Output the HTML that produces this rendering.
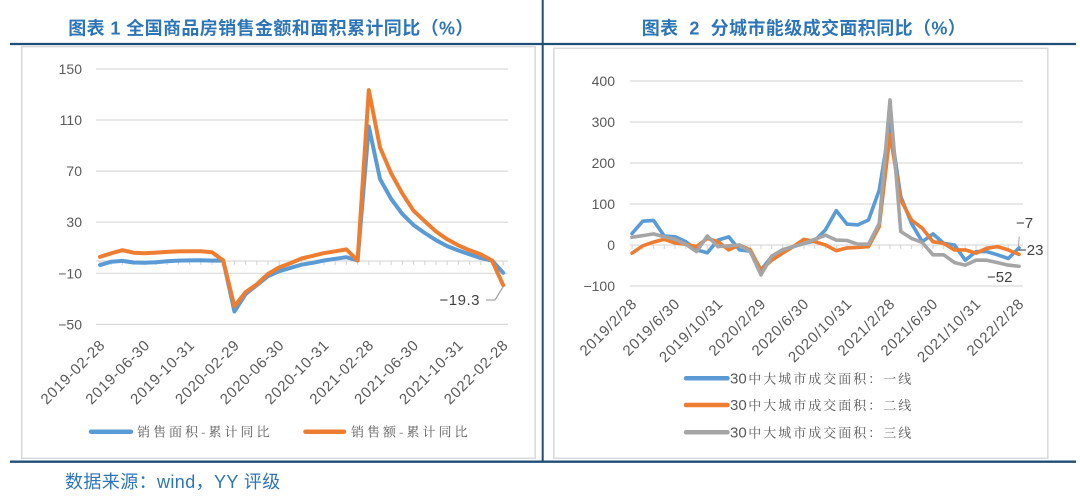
<!DOCTYPE html>
<html>
<head>
<meta charset="utf-8">
<style>
html,body{margin:0;padding:0;background:#fff;width:1080px;height:499px;overflow:hidden}
svg{display:block}
</style>
</head>
<body>
<svg width="1080" height="499" viewBox="0 0 1080 499" xmlns="http://www.w3.org/2000/svg">
<rect width="1080" height="499" fill="#fff"/>

<!-- Titles -->
<g font-family="'Liberation Sans','Noto Sans CJK SC',sans-serif" font-weight="bold" font-size="18" fill="#2e75b6" text-anchor="middle" letter-spacing="0.4">
<text x="271" y="34.5">图表 1 全国商品房销售金额和面积累计同比（%）</text>
<text x="804" y="34.5" xml:space="preserve">图表  2  分城市能级成交面积同比（%）</text>
</g>

<!-- frame lines -->
<line x1="10" y1="44" x2="1076" y2="44" stroke="#1f4e79" stroke-width="2.2"/>
<line x1="10" y1="461.7" x2="1076" y2="461.7" stroke="#1f4e79" stroke-width="2.4"/>
<line x1="542.7" y1="0" x2="542.7" y2="462" stroke="#1f4e79" stroke-width="2"/>

<!-- chart boxes -->
<rect x="21.7" y="46.7" width="513.5" height="411.6" fill="#fff" stroke="#d9d9d9" stroke-width="1.5"/>
<rect x="553.8" y="48.3" width="494" height="410" fill="#fff" stroke="#d9d9d9" stroke-width="1.5"/>

<!-- LEFT CHART -->
<g stroke="#d9d9d9" stroke-width="1.2">
<line x1="96" y1="69" x2="508" y2="69"/>
<line x1="96" y1="120" x2="508" y2="120"/>
<line x1="96" y1="171.1" x2="508" y2="171.1"/>
<line x1="96" y1="222.2" x2="508" y2="222.2"/>
<line x1="96" y1="273.3" x2="508" y2="273.3"/>
<line x1="96" y1="324.4" x2="508" y2="324.4"/>
<line x1="96" y1="261" x2="508" y2="261"/>
<path fill="none" d="M100 261v4M111.2 261v4M122.4 261v4M133.6 261v4M144.8 261v4M156 261v4M167.2 261v4M178.4 261v4M189.6 261v4M200.8 261v4M212 261v4M223.2 261v4M234.4 261v4M245.6 261v4M256.8 261v4M268 261v4M279.2 261v4M290.4 261v4M301.6 261v4M312.8 261v4M324 261v4M335.2 261v4M346.4 261v4M357.6 261v4M368.8 261v4M380 261v4M391.2 261v4M402.4 261v4M413.6 261v4M424.8 261v4M436 261v4M447.2 261v4M458.4 261v4M469.6 261v4M480.8 261v4M492 261v4M503.2 261v4"/>
</g>

<g font-family="'Liberation Sans',sans-serif" font-size="14" fill="#595959" text-anchor="end">
<text x="82" y="74">150</text>
<text x="82" y="125">110</text>
<text x="82" y="176.1">70</text>
<text x="82" y="227.2">30</text>
<text x="82" y="278.3">−10</text>
<text x="82" y="329.4">−50</text>
</g>

<polyline fill="none" stroke="#5b9bd5" stroke-width="4" stroke-linejoin="round" stroke-linecap="round" points="100,265.1 111.2,261.7 122.4,260.9 133.6,262.5 144.8,262.8 156,262.2 167.2,261.3 178.4,260.6 189.6,260.4 200.8,260.2 212,260.6 223.2,260.5 234.4,311.5 245.6,294.1 256.8,285.2 268,276.2 279.2,271.2 290.4,267.9 301.6,264.7 312.8,262.8 324,260.5 335.2,258.8 346.4,257.2 357.6,260.5 368.8,126.5 380,179 391.2,199 402.4,214.1 413.6,225.1 424.8,233 436,240.2 447.2,246.1 458.4,250.5 469.6,254.4 480.8,258.1 492,260.5 503.2,272.8"/>
<polyline fill="none" stroke="#ed7d31" stroke-width="4" stroke-linejoin="round" stroke-linecap="round" points="100,256.9 111.2,253.3 122.4,250.2 133.6,252.7 144.8,253.3 156,252.6 167.2,251.9 178.4,251.4 189.6,251.2 200.8,251.2 212,252.2 223.2,260.5 234.4,306.4 245.6,292.1 256.8,284.3 268,274 279.2,267.4 290.4,263.2 301.6,258.5 312.8,255.8 324,253.1 335.2,251.3 346.4,249.4 357.6,260.5 368.8,90.1 380,147.4 391.2,173.4 402.4,193.6 413.6,210.8 424.8,221.3 436,231.5 447.2,239.3 458.4,245.4 469.6,250.3 480.8,254.4 492,260.5 503.2,285.2"/>

<!-- -19.3 label -->
<polyline fill="none" stroke="#a6a6a6" stroke-width="1.2" points="486,300 495,300 503,287"/>
<text x="480" y="305" font-family="'Liberation Sans',sans-serif" font-size="15" fill="#404040" text-anchor="end" letter-spacing="0.5">−19.3</text>

<g font-family="'Liberation Sans',sans-serif" font-size="15" fill="#595959" text-anchor="end" letter-spacing="0.7">
<text transform="translate(106,346) rotate(-45)">2019-02-28</text>
<text transform="translate(150.8,346) rotate(-45)">2019-06-30</text>
<text transform="translate(195.6,346) rotate(-45)">2019-10-31</text>
<text transform="translate(240.4,346) rotate(-45)">2020-02-29</text>
<text transform="translate(285.2,346) rotate(-45)">2020-06-30</text>
<text transform="translate(330,346) rotate(-45)">2020-10-31</text>
<text transform="translate(374.8,346) rotate(-45)">2021-02-28</text>
<text transform="translate(419.6,346) rotate(-45)">2021-06-30</text>
<text transform="translate(464.4,346) rotate(-45)">2021-10-31</text>
<text transform="translate(509.2,346) rotate(-45)">2022-02-28</text>
</g>

<!-- left legend -->
<line x1="91" y1="431.7" x2="131" y2="431.7" stroke="#5b9bd5" stroke-width="4.5" stroke-linecap="round"/>
<line x1="305.5" y1="431.7" x2="344" y2="431.7" stroke="#ed7d31" stroke-width="4.5" stroke-linecap="round"/>
<g font-family="'Noto Serif CJK SC','Noto Sans CJK SC',serif" font-size="13" fill="#595959" letter-spacing="3">
<text x="137" y="436.5">销售面积-累计同比</text>
<text x="351" y="436.5">销售额-累计同比</text>
</g>

<!-- RIGHT CHART -->
<g stroke="#d9d9d9" stroke-width="1.2">
<line x1="630" y1="81" x2="1023" y2="81"/>
<line x1="630" y1="122" x2="1023" y2="122"/>
<line x1="630" y1="163" x2="1023" y2="163"/>
<line x1="630" y1="204" x2="1023" y2="204"/>
<line x1="630" y1="245" x2="1023" y2="245"/>
<line x1="630" y1="286" x2="1023" y2="286"/>
<path fill="none" d="M632 245v4M642.75 245v4M653.5 245v4M664.25 245v4M675 245v4M685.75 245v4M696.5 245v4M707.25 245v4M718 245v4M728.75 245v4M739.5 245v4M750.25 245v4M761 245v4M771.75 245v4M782.5 245v4M793.25 245v4M804 245v4M814.75 245v4M825.5 245v4M836.25 245v4M847 245v4M857.75 245v4M868.5 245v4M879.25 245v4M890 245v4M900.75 245v4M911.5 245v4M922.25 245v4M933 245v4M943.75 245v4M954.5 245v4M965.25 245v4M976 245v4M986.75 245v4M997.5 245v4M1008.25 245v4M1019 245v4"/>
</g>

<g font-family="'Liberation Sans',sans-serif" font-size="14" fill="#595959" text-anchor="end">
<text x="615" y="86">400</text>
<text x="615" y="127">300</text>
<text x="615" y="168">200</text>
<text x="615" y="209">100</text>
<text x="615" y="250">0</text>
<text x="615" y="291">−100</text>
</g>

<polyline fill="none" stroke="#5b9bd5" stroke-width="3.6" stroke-linejoin="round" stroke-linecap="round" points="632,233.5 642.75,221.2 653.5,220.4 664.25,236 675,236.8 685.75,241.7 696.5,249.9 707.25,252.8 718,240.1 728.75,236.8 739.5,249.9 750.25,251.2 761,270 771.75,256.5 782.5,249.9 793.25,246.6 804,243.4 814.75,240.9 825.5,229.8 836.25,210.6 847,224.1 857.75,224.9 868.5,220 879.25,190.1 890,124 900.75,196.6 911.5,223.3 922.25,241.7 933,233.9 943.75,243.4 954.5,245 965.25,260.2 976,251.6 986.75,251.6 997.5,254.8 1008.25,258.5 1019,247.9"/>
<polyline fill="none" stroke="#ed7d31" stroke-width="3.6" stroke-linejoin="round" stroke-linecap="round" points="632,253.2 642.75,245.8 653.5,242.1 664.25,239.3 675,243 685.75,244.2 696.5,246.6 707.25,238.4 718,241.7 728.75,249.9 739.5,245 750.25,249.9 761,270 771.75,260.2 782.5,253.2 793.25,246.6 804,239.3 814.75,241.7 825.5,245 836.25,250.7 847,247.9 857.75,247.5 868.5,246.6 879.25,226.6 890,134.3 900.75,199.9 911.5,220 922.25,228.2 933,241.7 943.75,243.4 954.5,249.9 965.25,249.9 976,253.2 986.75,248.3 997.5,246.6 1008.25,249.9 1019,254.4"/>
<polyline fill="none" stroke="#a5a5a5" stroke-width="3.6" stroke-linejoin="round" stroke-linecap="round" points="632,237.2 642.75,235.6 653.5,233.9 664.25,236.8 675,239.3 685.75,244.2 696.5,251.6 707.25,236 718,246.6 728.75,245.8 739.5,245 750.25,251.6 761,274.9 771.75,256.1 782.5,249.9 793.25,246.6 804,243.4 814.75,239.3 825.5,235.2 836.25,240.1 847,240.5 857.75,244.2 868.5,244.2 879.25,223.3 890,99.9 900.75,231.5 911.5,238.4 922.25,242.5 933,254.8 943.75,254.8 954.5,262.6 965.25,265.1 976,260.2 986.75,260.2 997.5,262.6 1008.25,265.1 1019,266.3"/>

<!-- right data labels -->
<line x1="1019.3" y1="236.7" x2="1018.3" y2="246.7" stroke="#a6a6a6" stroke-width="1"/>
<g font-family="'Liberation Sans',sans-serif" font-size="15" fill="#404040">
<text x="1016" y="228">−7</text>
<text x="1018" y="255">−23</text>
<text x="987" y="282">−52</text>
</g>

<g font-family="'Liberation Sans',sans-serif" font-size="15" fill="#595959" text-anchor="end" letter-spacing="0.8">
<text transform="translate(638,304.5) rotate(-45)">2019/2/28</text>
<text transform="translate(681,304.5) rotate(-45)">2019/6/30</text>
<text transform="translate(724,304.5) rotate(-45)">2019/10/31</text>
<text transform="translate(767,304.5) rotate(-45)">2020/2/29</text>
<text transform="translate(810,304.5) rotate(-45)">2020/6/30</text>
<text transform="translate(853,304.5) rotate(-45)">2020/10/31</text>
<text transform="translate(896,304.5) rotate(-45)">2021/2/28</text>
<text transform="translate(939,304.5) rotate(-45)">2021/6/30</text>
<text transform="translate(982,304.5) rotate(-45)">2021/10/31</text>
<text transform="translate(1025,304.5) rotate(-45)">2022/2/28</text>
</g>

<!-- right legend -->
<line x1="686" y1="378.3" x2="727.5" y2="378.3" stroke="#5b9bd5" stroke-width="4.5" stroke-linecap="round"/>
<line x1="686" y1="405" x2="727.5" y2="405" stroke="#ed7d31" stroke-width="4.5" stroke-linecap="round"/>
<line x1="686" y1="432.3" x2="727.5" y2="432.3" stroke="#a5a5a5" stroke-width="4.5" stroke-linecap="round"/>
<g fill="#595959">
<text x="730" y="383.5"><tspan font-family="'Liberation Sans',sans-serif" font-size="15">30</tspan><tspan font-family="'Noto Serif CJK SC','Noto Sans CJK SC',serif" font-size="13" letter-spacing="2" dx="1.5">中大城市成交面积：一线</tspan></text>
<text x="730" y="410.2"><tspan font-family="'Liberation Sans',sans-serif" font-size="15">30</tspan><tspan font-family="'Noto Serif CJK SC','Noto Sans CJK SC',serif" font-size="13" letter-spacing="2" dx="1.5">中大城市成交面积：二线</tspan></text>
<text x="730" y="437.5"><tspan font-family="'Liberation Sans',sans-serif" font-size="15">30</tspan><tspan font-family="'Noto Serif CJK SC','Noto Sans CJK SC',serif" font-size="13" letter-spacing="2" dx="1.5">中大城市成交面积：三线</tspan></text>
</g>

<!-- caption -->
<text x="65" y="488" font-family="'Liberation Sans','Noto Sans CJK SC',sans-serif" font-size="18" fill="#2f75b5" letter-spacing="0.4">数据来源：wind，YY 评级</text>
</svg>
</body>
</html>
